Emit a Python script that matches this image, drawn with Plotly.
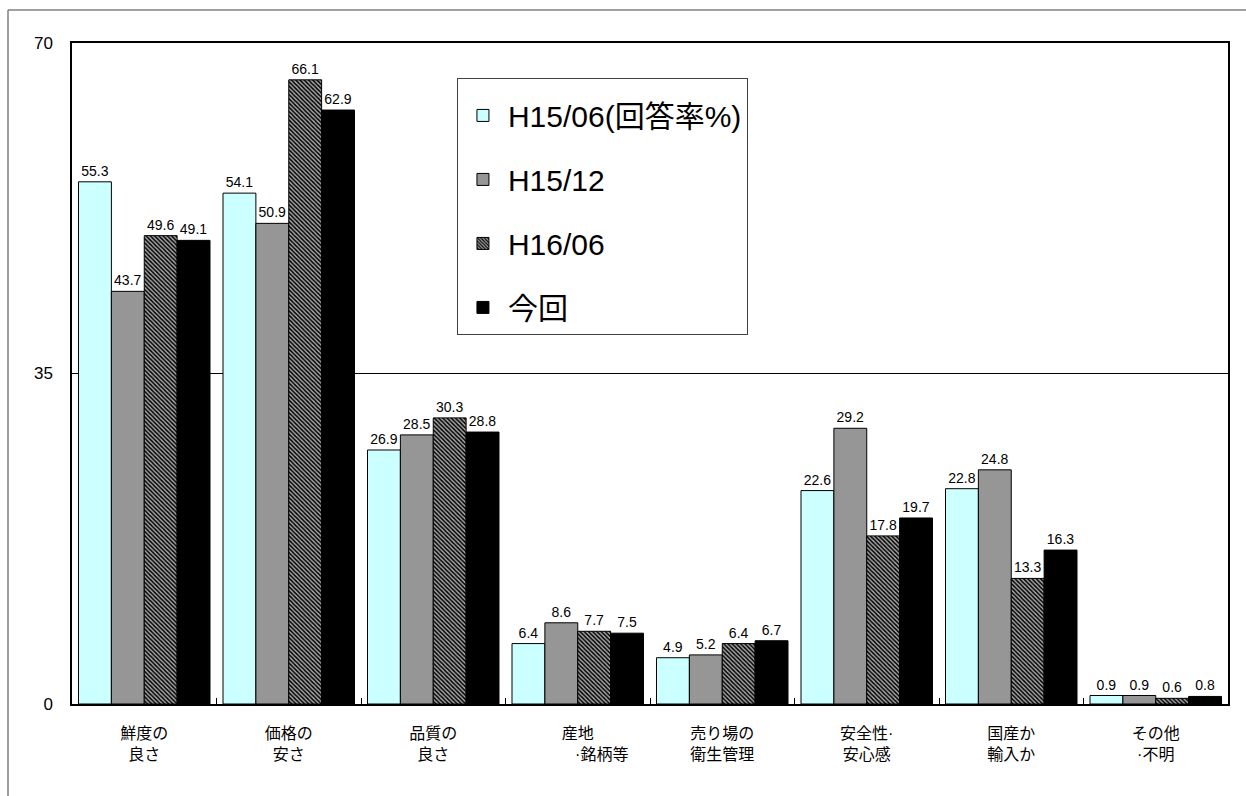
import plotly.graph_objects as go

categories = ["鮮度の<br>良さ", "価格の<br>安さ", "品質の<br>良さ", "産地<br>\u3000\u3000\u3000·銘柄等",
              "売り場の<br>衛生管理", "安全性·<br>安心感", "国産か<br>輸入か", "その他<br>·不明"]
series_names = ["H15/06(回答率%)", "H15/12", "H16/06", "今回"]
h15_06 = [55.3, 54.1, 26.9, 6.4, 4.9, 22.6, 22.8, 0.9]
h15_12 = [43.7, 50.9, 28.5, 8.6, 5.2, 29.2, 24.8, 0.9]
h16_06 = [49.6, 66.1, 30.3, 7.7, 6.4, 17.8, 13.3, 0.6]
konkai = [49.1, 62.9, 28.8, 7.5, 6.7, 19.7, 16.3, 0.8]
y_ticks = [0, 35, 70]

FONT = "Liberation Sans, Arial, Noto Sans CJK JP, sans-serif"

fig = go.Figure()
styles = [
    dict(color="#CCFFFF"),
    dict(color="#969696"),
    dict(color="#808080", pattern=dict(shape="\\", fgcolor="#000000", bgcolor="#A8A8A8",
                                        size=3, solidity=0.5, fillmode="replace")),
    dict(color="#000000"),
]
for i, (name, vals) in enumerate(zip(series_names, [h15_06, h15_12, h16_06, konkai])):
    m = dict(styles[i])
    m["line"] = dict(color="#000000", width=1)
    fig.add_trace(go.Bar(
        x=categories, y=vals, name=name, marker=m,
        text=[f"{v:.1f}" for v in vals], textposition="outside",
        textfont=dict(size=14, color="#000000", family=FONT),
        cliponaxis=False, constraintext="none",
        legendgroup=f"g{i}",
    ))

fig.update_layout(
    width=1246, height=796,
    margin=dict(l=72, r=18, t=43, b=92),
    paper_bgcolor="white", plot_bgcolor="white",
    font=dict(family=FONT, color="#000000"),
    barmode="group", bargap=0.09, bargroupgap=0,
    showlegend=True,
    legend=dict(x=0.333, y=0.947, xanchor="left", yanchor="top",
                bgcolor="white", bordercolor="#404040", borderwidth=1,
                font=dict(size=30, family=FONT), traceorder="grouped",
                tracegroupgap=22, itemwidth=40,
                title=dict(text=" ", font=dict(size=8))),
    xaxis=dict(showline=True, linecolor="#000000", linewidth=1.5, mirror=True,
               ticks="inside", ticklen=6, tickcolor="#000000", tickson="boundaries",
               tickfont=dict(size=16), ticklabelstandoff=14, showgrid=False),
    yaxis=dict(range=[0, 70], tickvals=y_ticks, showline=True, linecolor="#000000",
               linewidth=1.5, mirror=True, showgrid=True, gridcolor="#000000", gridwidth=1,
               ticks="inside", ticklen=4, tickcolor="#000000",
               tickfont=dict(size=17), ticklabelstandoff=14, zeroline=False),
)
# outer chart-area frame (only top and left edges are visible in the image)
fx = (8 - 72) / 1156
fy = (704 - 10) / 661
fig.add_shape(type="line", xref="paper", yref="paper", x0=fx, x1=(1246 - 72) / 1156, y0=fy, y1=fy,
              line=dict(color="#808080", width=1.5), layer="below")
fig.add_shape(type="line", xref="paper", yref="paper", x0=fx, x1=fx, y0=fy, y1=(704 - 796) / 661,
              line=dict(color="#808080", width=1.5), layer="below")

fig.write_html("out.html")
